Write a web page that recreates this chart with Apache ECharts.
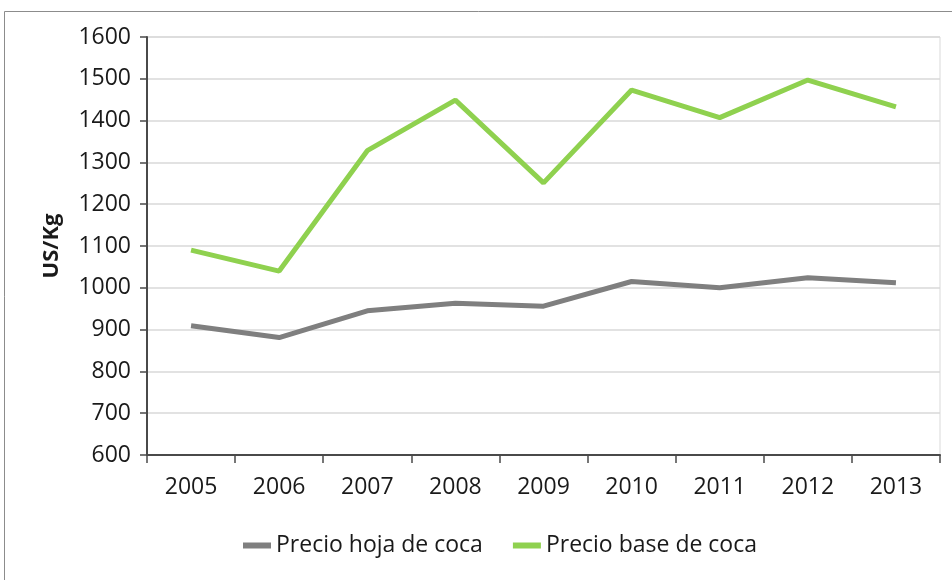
<!DOCTYPE html>
<html>
<head>
<meta charset="utf-8">
<script src="https://cdn.jsdelivr.net/npm/echarts@6/dist/echarts.min.js"></script>
<style>
  html, body { margin: 0; padding: 0; background: #ffffff; }
  #chart { width: 952px; height: 580px; }
</style>
</head>
<body>
<div id="chart"></div>
<script>
// Years on the category axis
const years = ['2005', '2006', '2007', '2008', '2009', '2010', '2011', '2012', '2013'];
// Coca leaf price (US$/kg)
const precioHoja = [909, 881, 945, 963, 956, 1015, 1000, 1024, 1012];
// Coca base price (US$/kg)
const precioBase = [1090, 1040, 1328, 1449, 1251, 1473, 1407, 1497, 1433];

const seriesNames = ['Precio hoja de coca', 'Precio base de coca'];
const seriesColors = ['#7f7f7f', '#8fd14f'];

const fontFamily = '"Open Sans", "DejaVu Sans", sans-serif';
const textColor = '#1a1a1a';
const axisColor = '#4a4a4a';

const chart = echarts.init(document.getElementById('chart'), null, { renderer: 'canvas' });

chart.setOption({
  animation: false,
  backgroundColor: '#ffffff',
  graphic: [{
    type: 'rect',
    shape: { x: 4.5, y: 11.5, width: 1000, height: 700 },
    style: { fill: 'none', stroke: '#8c8c8c', lineWidth: 1 },
    silent: true
  }],
  grid: {
    left: 147, right: 12, top: 37, bottom: 125,
    show: true, borderColor: '#d9d9d9', borderWidth: 1, backgroundColor: 'transparent'
  },
  legend: {
    data: seriesNames,
    left: 243, top: 534,
    padding: 0,
    itemGap: 30,
    itemWidth: 28, itemHeight: 6,
    icon: 'rect',
    textStyle: { fontFamily: fontFamily, fontSize: 23, color: textColor }
  },
  xAxis: {
    type: 'category',
    data: years,
    boundaryGap: true,
    axisLine: { lineStyle: { color: axisColor, width: 2 } },
    axisTick: { show: true, length: 8, lineStyle: { color: axisColor, width: 1.5 } },
    axisLabel: { margin: 21, fontFamily: fontFamily, fontSize: 23, color: textColor },
    splitLine: { show: false }
  },
  yAxis: {
    type: 'value',
    min: 600, max: 1600, interval: 100,
    name: 'US/Kg',
    nameLocation: 'middle',
    nameGap: 84,
    nameRotate: 90,
    nameTextStyle: { fontFamily: fontFamily, fontSize: 22, fontWeight: 'bold', color: textColor },
    axisLine: { show: true, lineStyle: { color: axisColor, width: 2 } },
    axisTick: { show: true, length: 7, lineStyle: { color: axisColor, width: 1.5 } },
    axisLabel: {
      margin: 16, fontFamily: fontFamily, fontSize: 23, color: textColor,
      formatter: function (v) { return String(v); }
    },
    splitLine: { show: true, lineStyle: { color: '#d9d9d9', width: 1.5 } }
  },
  series: [
    {
      name: seriesNames[0],
      type: 'line',
      data: precioHoja,
      symbol: 'none',
      color: seriesColors[0],
      lineStyle: { color: seriesColors[0], width: 5 },
      itemStyle: { color: seriesColors[0] }
    },
    {
      name: seriesNames[1],
      type: 'line',
      data: precioBase,
      symbol: 'none',
      color: seriesColors[1],
      lineStyle: { color: seriesColors[1], width: 5 },
      itemStyle: { color: seriesColors[1] }
    }
  ]
});
</script>
</body>
</html>
